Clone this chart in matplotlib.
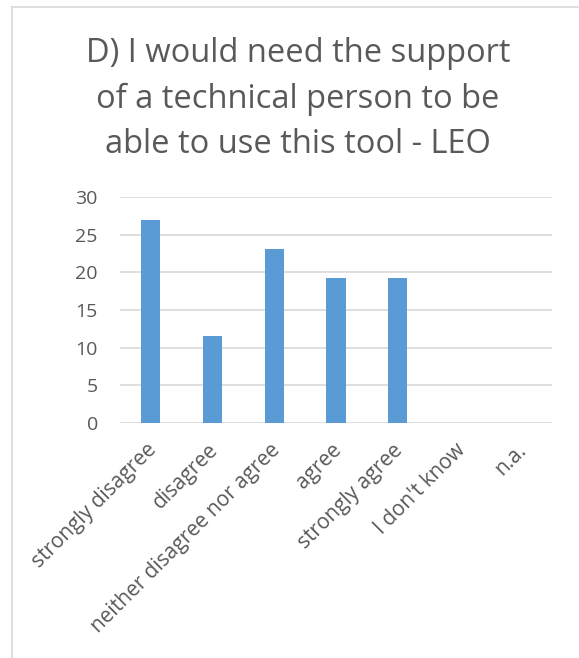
import numpy as np
import matplotlib.pyplot as plt
from matplotlib.lines import Line2D
from matplotlib.transforms import ScaledTranslation

categories = ['strongly disagree', 'disagree', 'neither disagree nor agree',
              'agree', 'strongly agree', "I don't know", 'n.a.']
values = [26.9, 11.5, 23.1, 19.2, 19.2, 0, 0]
yticks = [0, 5, 10, 15, 20, 25, 30]
title = 'D) I would need the support\nof a technical person to be\nable to use this tool - LEO'

plt.rcParams['font.family'] = ['Open Sans', 'DejaVu Sans']

W, H = 579, 658
fig = plt.figure(figsize=(W / 100, H / 100), dpi=100)
ax = fig.add_axes([120 / W, 1 - 423 / H, 432 / W, 226 / H])

x = np.arange(len(categories))
ax.bar(x, values, width=0.31, color='#5b9bd5', zorder=3)

ax.set_ylim(0, 30)
ax.set_xlim(-0.5, len(categories) - 0.5)
ax.set_yticks(yticks)
ax.set_xticks(x)
ax.set_xticklabels(categories, rotation=45, ha='right', rotation_mode='anchor')
ax.tick_params(axis='both', length=0, colors='#595959', labelsize=14)
ax.tick_params(axis='x', pad=12, labelsize=15)
ax.tick_params(axis='y', pad=16)
# nudge the rotated labels a little to the left
shift = ScaledTranslation(-5 / 100, 0, fig.dpi_scale_trans)
for lbl in ax.get_xticklabels():
    lbl.set_transform(lbl.get_transform() + shift)
ax.grid(axis='y', color='#d9d9d9', linewidth=1.2, zorder=0)
for s in ax.spines.values():
    s.set_visible(False)

fig.text(298 / W, 1 - 99 / H, title, ha='center', va='center',
         fontsize=23.5, color='#595959', linespacing=1.48)

# chart frame (left and top edges visible)
fig.add_artist(Line2D([12 / W, 12 / W], [0, 1 - 7 / H], color='#d9d9d9', lw=1.2))
fig.add_artist(Line2D([12 / W, 1], [1 - 7 / H, 1 - 7 / H], color='#d9d9d9', lw=1.2))

fig.savefig('out.png', dpi=100)
